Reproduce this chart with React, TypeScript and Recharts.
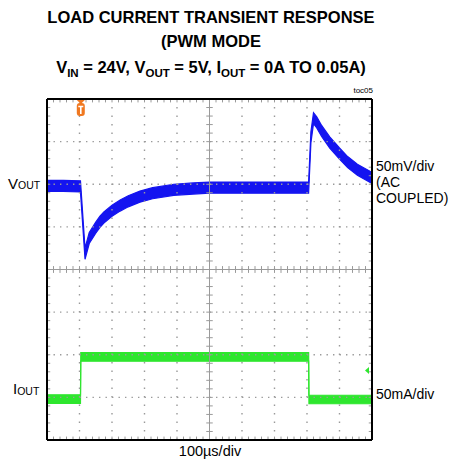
import React from "react";
import { ComposedChart, Area, XAxis, YAxis, ReferenceLine, ReferenceDot } from "recharts";

// Time in divisions (100µs/div), voltage/current in screen divisions
const blueT = [0, 0.5, 1.03, 1.17, 1.3, 1.5, 1.63, 1.75, 2.0, 2.25, 2.5, 2.86, 3.25, 3.9, 4.5, 5.0, 6.0, 7.0, 8.05, 8.12, 8.2, 8.3, 8.45, 8.7, 9.0, 9.25, 9.55, 10];
const blueV = [1.96, 1.96, 1.95, 0.37, 0.74, 0.98, 1.12, 1.22, 1.38, 1.5, 1.6, 1.71, 1.79, 1.87, 1.9, 1.92, 1.92, 1.92, 1.92, 3.1, 3.55, 3.45, 3.25, 2.98, 2.72, 2.52, 2.34, 2.15];
const greenT = [0, 1.03, 1.04, 8.05, 8.06, 10];
const greenV = [-3.04, -3.04, -2.05, -2.05, -3.05, -3.05];
const triggerT = 1.04;
const ch2MarkerV = -2.37;

const xDivs = [0, 1, 2, 3, 4, 5, 6, 7, 8, 9, 10];
const yDivs = [-4, -3, -2, -1, 0, 1, 2, 3, 4];

const titleLines = ["LOAD CURRENT TRANSIENT RESPONSE", "(PWM MODE"];
const voltScale = ["50mV/div", "(AC", "COUPLED)"];
const currentScale = "50mA/div";
const timeScale = "100µs/div";

const BLUE = "#1414f0";
const GREEN = "#2ee62e";
const BLUE_HALF = 0.13;
const GREEN_HALF = 0.1;

const blueData = blueT.map((t, i) => ({ t, r: [blueV[i] - BLUE_HALF, blueV[i] + BLUE_HALF] }));
const greenData = greenT.map((t, i) => ({ t, r: [greenV[i] - GREEN_HALF, greenV[i] + GREEN_HALF] }));

const minor = (from: number, to: number) => {
  const out: number[] = [];
  for (let i = Math.round(from * 5) + 1; i < Math.round(to * 5); i++) out.push(Math.round(i * 20) / 100);
  return out;
};
const xMinor = minor(0, 10);
const yMinor = minor(-4, 4);

const TriggerShape = (p: any) => {
  const { cx, cy } = p;
  return (
    <g>
      <path d={`M${cx - 4},${cy + 1} L${cx + 4},${cy + 1} L${cx},${cy + 5} Z`} fill="#f07820" />
      <rect x={cx - 4} y={cy + 4} width={8} height={13} rx={3} fill="#f07820" />
      <path d={`M${cx - 2.5},${cy + 7.5} L${cx + 2.5},${cy + 7.5} M${cx},${cy + 7.5} L${cx},${cy + 15}`} stroke="#fff" strokeWidth={1.6} />
    </g>
  );
};

const ArrowShape = (p: any) => {
  const { cx, cy } = p;
  return <path d={`M${cx - 7},${cy} L${cx - 3},${cy - 3.5} L${cx - 3},${cy + 3.5} Z`} fill={GREEN} />;
};

export default function App() {
  const grid = "#9a9a9a";
  return (
    <div style={{ position: "absolute", left: 0, top: 0, width: 450, height: 459, background: "#fff" }}>
      <ComposedChart width={450} height={459} margin={{ top: 99, right: 78, bottom: 19, left: 47 }}>
        <XAxis type="number" dataKey="t" domain={[0, 10]} ticks={xDivs} hide allowDataOverflow />
        <YAxis type="number" domain={[-4, 4]} ticks={yDivs} hide allowDataOverflow />
        {xDivs.filter((v) => v !== 0 && v !== 10 && v !== 5).map((v) => (
          <ReferenceLine key={"gx" + v} x={v} stroke={grid} strokeWidth={1.4} strokeDasharray="1.4 7.1" />
        ))}
        {yDivs.filter((v) => v !== -4 && v !== 4 && v !== 0).map((v) => (
          <ReferenceLine key={"gy" + v} y={v} stroke={grid} strokeWidth={1.4} strokeDasharray="1.4 5.1" />
        ))}
        <ReferenceLine x={5} stroke={grid} strokeWidth={1} />
        <ReferenceLine y={0} stroke={grid} strokeWidth={1} />
        {xMinor.map((t) => (
          <ReferenceLine key={"cx" + t} segment={[{ x: t, y: -0.08 }, { x: t, y: 0.08 }]} stroke={grid} strokeWidth={1} />
        ))}
        {yMinor.map((v) => (
          <ReferenceLine key={"cy" + v} segment={[{ x: 4.9, y: v }, { x: 5.1, y: v }]} stroke={grid} strokeWidth={1} />
        ))}
        {xMinor.map((t) => (
          <ReferenceLine key={"tx" + t} segment={[{ x: t, y: 4 }, { x: t, y: 3.92 }]} stroke={grid} strokeWidth={1} />
        ))}
        {xMinor.map((t) => (
          <ReferenceLine key={"bx" + t} segment={[{ x: t, y: -4 }, { x: t, y: -3.92 }]} stroke={grid} strokeWidth={1} />
        ))}
        {yMinor.map((v) => (
          <ReferenceLine key={"ly" + v} segment={[{ x: 0, y: v }, { x: 0.1, y: v }]} stroke={grid} strokeWidth={1} />
        ))}
        {yMinor.map((v) => (
          <ReferenceLine key={"ry" + v} segment={[{ x: 10, y: v }, { x: 9.9, y: v }]} stroke={grid} strokeWidth={1} />
        ))}
        <Area data={greenData} dataKey="r" type="linear" stroke={GREEN} strokeWidth={1.2} fill={GREEN} fillOpacity={1} isAnimationActive={false} dot={false} activeDot={false} />
        <Area data={blueData} dataKey="r" type="linear" stroke={BLUE} strokeWidth={1.2} fill={BLUE} fillOpacity={1} isAnimationActive={false} dot={false} activeDot={false} />
        <ReferenceLine x={0} stroke="#000" strokeWidth={2} />
        <ReferenceLine x={10} stroke="#000" strokeWidth={2} />
        <ReferenceLine y={4} stroke="#000" strokeWidth={2} />
        <ReferenceLine y={-4} stroke="#000" strokeWidth={2} />
        <ReferenceDot x={triggerT} y={4} r={4} shape={TriggerShape} ifOverflow="visible" />
        <ReferenceDot x={10} y={ch2MarkerV} r={4} shape={ArrowShape} ifOverflow="visible" />
      </ComposedChart>
      <svg width={450} height={459} style={{ position: "absolute", left: 0, top: 0, pointerEvents: "none" }} fontFamily="'Liberation Sans', Arial, sans-serif">
        <text x={211} y={23} textAnchor="middle" fontSize={16.5} fontWeight="bold" fill="#000">{titleLines[0]}</text>
        <text x={211} y={47} textAnchor="middle" fontSize={16.5} fontWeight="bold" fill="#000">{titleLines[1]}</text>
        <text x={211} y={73} textAnchor="middle" fontSize={16.5} fontWeight="bold" fill="#000">
          <tspan>V</tspan>
          <tspan fontSize={11.5} dy={4}>IN</tspan>
          <tspan dy={-4}> = 24V, V</tspan>
          <tspan fontSize={11.5} dy={4}>OUT</tspan>
          <tspan dy={-4}> = 5V, I</tspan>
          <tspan fontSize={11.5} dy={4}>OUT</tspan>
          <tspan dy={-4}> = 0A TO 0.05A)</tspan>
        </text>
        <text x={373} y={93} textAnchor="end" fontSize={8} fill="#000">toc05</text>
        <text x={8} y={189} fontSize={15} fill="#000">V<tspan fontSize={10.5}>OUT</tspan></text>
        <text x={13} y={394} fontSize={15} fill="#000">I<tspan fontSize={10.5} dy={1}>OUT</tspan></text>
        {voltScale.map((s, i) => (
          <text key={s} x={376} y={171 + i * 16} fontSize={14} fill="#000">{s}</text>
        ))}
        <text x={376} y={399} fontSize={14} fill="#000">{currentScale}</text>
        <text x={210} y={456} textAnchor="middle" fontSize={14.5} fill="#000">{timeScale}</text>
      </svg>
    </div>
  );
}
